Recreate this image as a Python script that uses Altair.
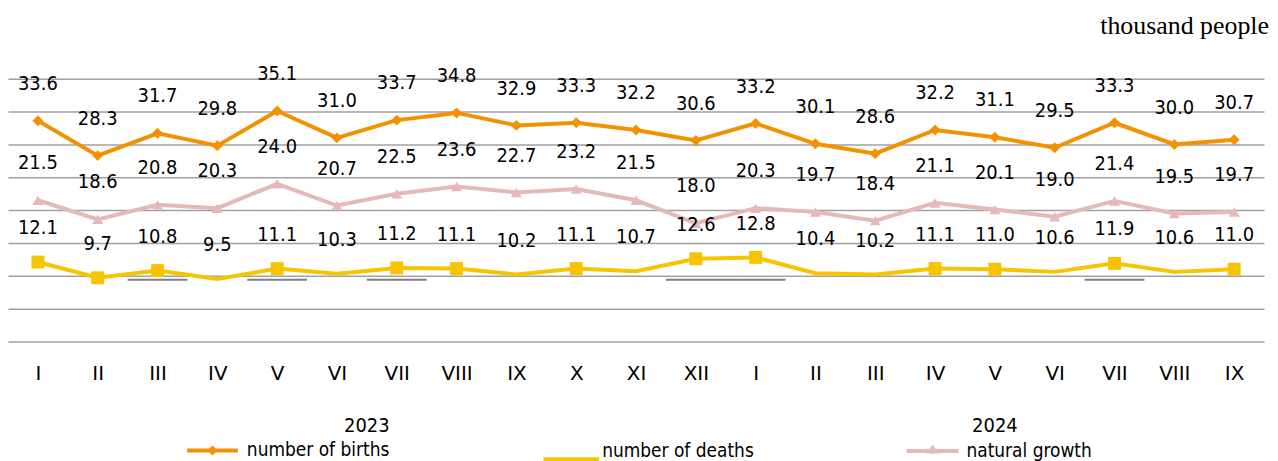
import json
import altair as alt
import pandas as pd

# ---------------- data ----------------
months = ["I", "II", "III", "IV", "V", "VI", "VII", "VIII", "IX", "X", "XI", "XII",
          "I", "II", "III", "IV", "V", "VI", "VII", "VIII", "IX"]
years = ["2023"] * 12 + ["2024"] * 9
births = [33.6, 28.3, 31.7, 29.8, 35.1, 31.0, 33.7, 34.8, 32.9, 33.3, 32.2, 30.6,
          33.2, 30.1, 28.6, 32.2, 31.1, 29.5, 33.3, 30.0, 30.7]
deaths = [12.1, 9.7, 10.8, 9.5, 11.1, 10.3, 11.2, 11.1, 10.2, 11.1, 10.7, 12.6,
          12.8, 10.4, 10.2, 11.1, 11.0, 10.6, 11.9, 10.6, 11.0]
growth = [21.5, 18.6, 20.8, 20.3, 24.0, 20.7, 22.5, 23.6, 22.7, 23.2, 21.5, 18.0,
          20.3, 19.7, 18.4, 21.1, 20.1, 19.0, 21.4, 19.5, 19.7]
deaths_marker = [1, 1, 1, 0, 1, 0, 1, 1, 0, 1, 0, 1, 1, 0, 0, 1, 1, 0, 1, 0, 1]
seg_start = [2, 4, 6, 11, 18]
seg_end = [2, 4, 6, 12, 18]
seg_level = [9.4, 9.4, 9.4, 9.4, 9.4]
series_names = ["number of births", "number of deaths", "natural growth"]
unit_label = ["thousand people"]

ORANGE = "#F39200"
YELLOW = "#F7C500"
PINK = "#E6B9B8"
GRID = "#A0A0A0"
SEG = "#808080"
FONT = "DejaVu Sans Condensed"

n = len(months)
idx = list(range(n))
df = pd.DataFrame({"idx": idx, "month": months, "year": years, "births": births,
                   "deaths": deaths, "growth": growth, "dmark": deaths_marker})
df["s_b"] = series_names[0]
df["s_d"] = series_names[1]
df["s_g"] = series_names[2]

year_df = df.groupby("year", as_index=False)["idx"].mean()
seg_df = pd.DataFrame({"idx": [s - 0.5 for s in seg_start],
                       "x1": [e + 0.5 for e in seg_end],
                       "births": seg_level})
unit_df = pd.DataFrame({"t": unit_label})

W, H = 1262, 264

xscale = alt.Scale(domain=[-0.5, n - 0.5], nice=False, zero=False)
yscale = alt.Scale(domain=[0, 40], nice=False, zero=True)

x_axis = alt.Axis(values=idx, labelExpr=json.dumps(months) + "[datum.value]",
                  grid=False, domain=False, ticks=False, tickSize=0, title=None,
                  labelFont="DejaVu Sans", labelFontSize=20, labelColor="black",
                  labelBaseline="middle", labelPadding=32, labelAngle=0,
                  labelOverlap=False, labelFlush=False)
y_axis = alt.Axis(values=list(range(0, 45, 5)), grid=True, gridColor=GRID, gridWidth=1.5,
                  labels=False, ticks=False, domain=False, title=None)

X = alt.X("idx:Q", scale=xscale, axis=x_axis, title=None)


def Y(field):
    return alt.Y(field + ":Q", scale=yscale, axis=y_axis, title=None)


def leg(x, y, path, size, color, offset):
    return alt.Legend(orient="none", legendX=x, legendY=y, title=None, padding=0,
                      symbolType=path, symbolSize=size, symbolStrokeWidth=4,
                      symbolFillColor=color, symbolStrokeColor=color, symbolOpacity=1,
                      labelFont=FONT, labelFontSize=19, labelColor="black",
                      labelOffset=offset)


base = alt.Chart(df)

# births
b_line = base.mark_line(strokeWidth=4).encode(
    x=X, y=Y("births"),
    color=alt.Color("s_b:N", scale=alt.Scale(domain=[series_names[0]], range=[ORANGE]),
                    legend=leg(178, 346, "M-1,0L1,0M-0.09,0L0,-0.09L0.09,0L0,0.09Z", 2601, ORANGE, 7)))
b_pts = base.mark_point(shape="diamond", filled=True, size=121, opacity=1, color=ORANGE).encode(
    x=X, y=Y("births"))
b_txt = base.mark_text(dy=-37, font=FONT, fontSize=20, color="black").encode(
    x=X, y=Y("births"), text=alt.Text("births:Q", format=".1f"))

# deaths
d_line = base.mark_line(strokeWidth=4).encode(
    x=X, y=Y("deaths"),
    color=alt.Color("s_d:N", scale=alt.Scale(domain=[series_names[1]], range=[YELLOW]),
                    legend=leg(536, 344, "M-1,0.3L1,0.3", 3136, YELLOW, 1)))
d_pts = base.transform_filter("datum.dmark == 1").mark_point(
    shape="square", filled=True, size=169, opacity=1, color=YELLOW).encode(
    x=X, y=Y("deaths"))
d_txt = base.mark_text(dy=-34, font=FONT, fontSize=20, color="black").encode(
    x=X, y=Y("deaths"), text=alt.Text("deaths:Q", format=".1f"))

# natural growth
g_line = base.mark_line(strokeWidth=4).encode(
    x=X, y=Y("growth"),
    color=alt.Color("s_g:N", scale=alt.Scale(domain=[series_names[2]], range=[PINK]),
                    legend=leg(901, 346, "M-1,0L1,0M0,-0.12L0.1,0.02L-0.1,0.02Z", 2704, PINK, 6)))
g_pts = base.mark_point(shape="triangle-up", filled=True, size=121, opacity=1, color=PINK).encode(
    x=X, y=Y("growth"))
g_txt = base.mark_text(dy=-37, font=FONT, fontSize=20, color="black").encode(
    x=X, y=Y("growth"), text=alt.Text("growth:Q", format=".1f"))

segs = alt.Chart(seg_df).mark_rule(color=SEG, strokeWidth=2).encode(
    x=X, x2="x1:Q", y=Y("births"))

year_txt = alt.Chart(year_df).mark_text(font=FONT, fontSize=20, color="black",
                                         baseline="middle").encode(
    x=X, y=alt.value(H + 85), text="year:N")

unit_txt = alt.Chart(unit_df).mark_text(font="Liberation Serif", fontSize=26, color="black",
                                         align="right", baseline="alphabetic").encode(
    x=alt.value(W + 5), y=alt.value(-45), text="t:N")

chart = alt.layer(
    b_line, segs, g_line, d_line, b_pts, g_pts, d_pts, b_txt, g_txt, d_txt, year_txt, unit_txt
).resolve_scale(color="independent").properties(
    width=W, height=H,
    autosize=alt.AutoSizeParams(type="none"),
    padding={"left": 0, "top": 70, "right": 6, "bottom": 121},
).configure(background="white").configure_view(stroke=None)

chart.save("out.html", embed_options={"renderer": "svg", "actions": False})
